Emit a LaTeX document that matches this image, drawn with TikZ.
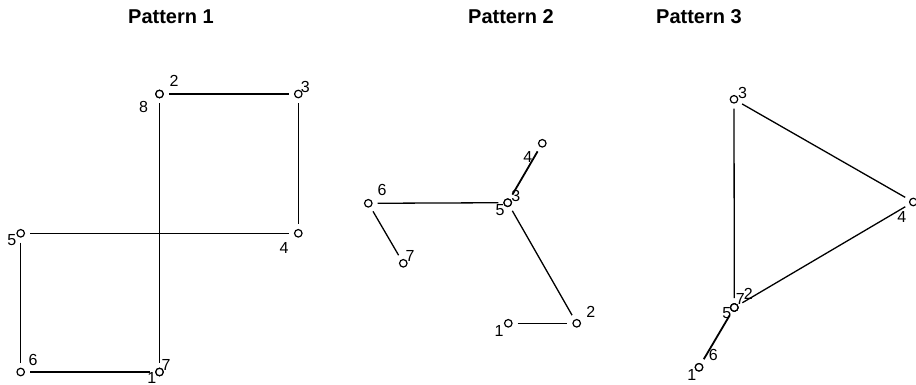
\documentclass[tikz,border=0pt]{standalone}
\usepackage{fontspec}
\setmainfont{Liberation Sans}
\begin{document}
\begin{tikzpicture}[x=1pt,y=-1pt,
  vtx/.style={circle,draw,line width=1.2pt,fill=white,inner sep=0pt,minimum size=7.5pt},
  lab/.style={inner sep=0pt,font=\fontsize{16}{16}\selectfont},
  ttl/.style={inner sep=0pt,font=\fontsize{20}{20}\selectfont\bfseries},
  edge/.style={line width=1.3pt,shorten <=5pt,shorten >=5pt},
  dbl/.style={edge,line width=1.8pt}]
\useasboundingbox (0,0) rectangle (916,385);
% titles
\node[ttl] (t1) at (171,16.5) {Pattern 1};
\node[ttl] (t2) at (511,16.5) {Pattern 2};
\node[ttl] (t3) at (699,16.5) {Pattern 3};
% ---------- Pattern 1 ----------
\node[vtx] (a1) at (159.5,372) {};
\node[vtx] (a2) at (159.5,94) {};
\node[vtx] (a3) at (298.3,94) {};
\node[vtx] (a4) at (298.3,233.3) {};
\node[vtx] (a5) at (20.7,233.3) {};
\node[vtx] (a6) at (20.7,372) {};
\node[vtx] (a7) at (159.5,372) {};
\node[vtx] (a8) at (159.5,94) {};
\node[lab] (la1) at ([shift={(-7.7,5.5)}]a1) {1};
\node[lab] (la2) at ([shift={(14.5,-13)}]a2) {2};
\node[lab] (la3) at ([shift={(7,-7.5)}]a3) {3};
\node[lab] (la4) at ([shift={(-14.3,14.7)}]a4) {4};
\node[lab] (la5) at ([shift={(-9,6.5)}]a5) {5};
\node[lab] (la6) at ([shift={(12.3,-12.3)}]a6) {6};
\node[lab] (la7) at ([shift={(6.5,-7)}]a7) {7};
\node[lab] (la8) at ([shift={(-16,13)}]a8) {8};
\draw[edge] (a2) -- (a3);
\draw[edge] (a3) -- (a4);
\draw[edge] (a4) -- (a5);
\draw[edge] (a5) -- (a6);
\draw[edge] (a6) -- (a7);
\draw[dbl] (a8) -- (a1);
% ---------- Pattern 2 ----------
\node[vtx] (b1) at (508.3,323.3) {};
\node[vtx] (b2) at (576.7,323.3) {};
\node[vtx] (b3) at (507.7,202.7) {};
\node[vtx] (b4) at (542.3,143.3) {};
\node[vtx] (b5) at (507.7,202.7) {};
\node[vtx] (b6) at (368.3,203.3) {};
\node[vtx] (b7) at (403.3,263.3) {};
\node[lab] (lb1) at ([shift={(-9.3,7.4)}]b1) {1};
\node[lab] (lb2) at ([shift={(14,-11.5)}]b2) {2};
\node[lab] (lb3) at ([shift={(8,-6.7)}]b3) {3};
\node[lab] (lb4) at ([shift={(-14.6,13.4)}]b4) {4};
\node[lab] (lb5) at ([shift={(-7.7,7.3)}]b5) {5};
\node[lab] (lb6) at ([shift={(13.7,-13.3)}]b6) {6};
\node[lab] (lb7) at ([shift={(6.7,-7.3)}]b7) {7};
\draw[dbl] (b4) -- (b3);
\draw[edge] (b6) -- (b5);
\draw[edge] (b6) -- (b7);
\draw[edge] (b5) -- (b2);
\draw[edge] (b1) -- (b2);
% ---------- Pattern 3 ----------
\node[vtx] (c1) at (699,367.3) {};
\node[vtx] (c2) at (734.3,307.5) {};
\node[vtx] (c3) at (734,99.3) {};
\node[vtx] (c4) at (913.3,202) {};
\node[vtx] (c5) at (734.3,307.5) {};
\node[vtx] (c6) at (699,367.3) {};
\node[vtx] (c7) at (734.3,307.5) {};
\node[lab] (lc1) at ([shift={(-7.3,7.7)}]c1) {1};
\node[lab] (lc2) at ([shift={(14,-13.7)}]c2) {2};
\node[lab] (lc3) at ([shift={(8.5,-6.7)}]c3) {3};
\node[lab] (lc4) at ([shift={(-11.6,15)}]c4) {4};
\node[lab] (lc5) at ([shift={(-7.6,5.6)}]c5) {5};
\node[lab] (lc6) at ([shift={(14.3,-12.3)}]c6) {6};
\node[lab] (lc7) at ([shift={(6,-8.5)}]c7) {7};
\draw[edge] (c3) -- (c4);
\draw[edge] (c4) -- (c2);
\draw[edge] (c3) -- (c7);
\draw[dbl] (c6) -- (c5);
\end{tikzpicture}
\end{document}
